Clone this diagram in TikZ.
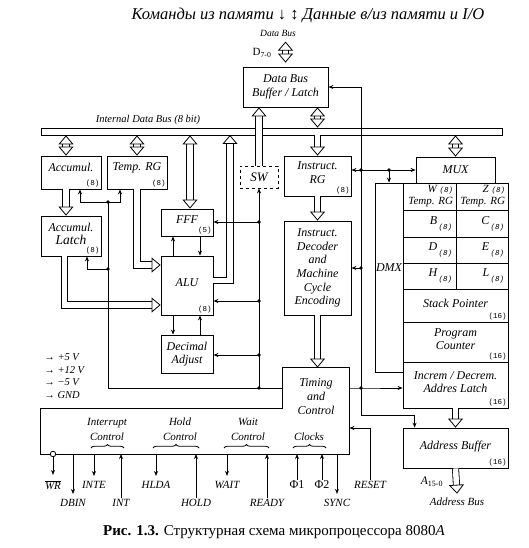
\documentclass[tikz,border=0pt]{standalone}
\usepackage{fontspec}
\setmainfont{Liberation Serif}
\setmonofont{Liberation Mono}
\usetikzlibrary{arrows.meta,decorations.pathreplacing}
\newcommand\szlab[1]{{\ttfamily\fontsize{7.5}{8}\selectfont #1}}

\tikzset{
  blk/.style={draw, inner sep=0pt},
  txt/.style={font=\itshape\fontsize{12}{13.5}\selectfont, align=center, inner sep=1pt},
  sz/.style={font=\ttfamily\fontsize{7.5}{8}\selectfont, inner sep=1.5pt},
  sig/.style={font=\itshape\fontsize{11}{12}\selectfont, inner sep=1pt},
  dot/.style={circle, fill, inner sep=0pt, minimum size=3.6pt},
  fat/.style={double, double distance=5.5pt, -{Triangle[open, length=9pt, width=15pt]}},
  fatboth/.style={double, double distance=5.5pt, {Triangle[open, length=9pt, width=15pt]}-{Triangle[open, length=9pt, width=15pt]}},
  brc/.style={decorate, decoration={brace, amplitude=3.5pt}},
}

\begin{document}
\begin{tikzpicture}[x=1pt, y=-1pt, line width=0.8pt, >={Stealth[length=5pt, width=4pt]}]
\useasboundingbox (0,0) rectangle (528,548);

% heading
\node[font=\itshape\fontsize{16.5}{18}\selectfont] (head) at (308,15) {Команды из памяти ↓ ↕ Данные в/из памяти и I/O};
\node[txt, font=\itshape\fontsize{9.5}{10}\selectfont] (dbus) at (278,33) {Data Bus};
\node[font=\fontsize{11}{12}\selectfont, inner sep=1pt] (dlab) at (262,53) {D\textsubscript{7-0}};

% internal data bus
\node[blk, fill=white, minimum width=461pt, minimum height=7pt] (bus) at (271.5,131.5) {};
\node[txt, font=\itshape\fontsize{10.5}{11}\selectfont] (buslab) at (148,120) {Internal Data Bus (8 bit)};

% left blocks
\node[blk, minimum width=85pt, minimum height=40pt, label={[txt]center:{Data Bus\\Buffer / Latch}}] (buf) at (285.5,87) {};
\node[blk, minimum width=60pt, minimum height=33pt, label={[txt, yshift=5pt]center:Accumul.}, label={[sz, anchor=south east]south east:{(8)}}] (acc) at (71,172.5) {};
\node[blk, minimum width=60pt, minimum height=33pt, label={[txt, yshift=5pt]center:{Temp. RG}}, label={[sz, anchor=south east]south east:{(8)}}] (tmp) at (137,172.5) {};
\node[blk, minimum width=60pt, minimum height=40pt, label={[txt, yshift=2pt]center:{Accumul.\\\fontsize{13.5}{14}\selectfont Latch}}, label={[sz, anchor=south east]south east:{(8)}}] (lat) at (71,236) {};
\node[blk, minimum width=52pt, minimum height=27pt, label={[txt, yshift=2.5pt]center:FFF}, label={[sz, anchor=south east]south east:{(5)}}] (fff) at (187,222.5) {};
\node[blk, dashed, minimum width=38pt, minimum height=22pt, label={[txt, font=\itshape\fontsize{13}{14}\selectfont]center:SW}] (sw) at (259,177) {};
\node[blk, minimum width=52pt, minimum height=59pt, label={[txt, yshift=2.5pt]center:ALU}, label={[sz, anchor=south east]south east:{(8)}}] (alu) at (187,285.5) {};
\node[blk, minimum width=52pt, minimum height=38pt, label={[txt]center:{Decimal\\Adjust}}] (dad) at (187,354) {};

% middle blocks
\node[blk, minimum width=67pt, minimum height=40pt, label={[txt, yshift=3.5pt]center:{Instruct.\\RG}}, label={[sz, anchor=south east]south east:{(8)}}] (ir) at (317.5,176) {};
\node[blk, minimum width=67pt, minimum height=94pt, label={[txt, font=\itshape\fontsize{12}{13.6}\selectfont]center:{Instruct.\\Decoder\\and\\Machine\\Cycle\\Encoding}}] (dec) at (317.5,268) {};
\node[minimum width=66pt, minimum height=86pt, inner sep=0pt] (tim) at (316,411) {};
\node[txt, font=\itshape\fontsize{12}{14}\selectfont] (timtxt) at (316,397) {Timing\\and\\Control};

% register array
\node[blk, minimum width=79pt, minimum height=26pt, label={[txt]center:MUX}] (mux) at (455.5,170) {};
\node[blk, minimum width=28pt, minimum height=189pt, label={[txt, yshift=9.5pt]center:DMX}] (dmx) at (389,277.5) {};
\node[blk, minimum width=53pt, minimum height=27pt, label={[txt, anchor=east, align=right, xshift=-2pt, font=\itshape\fontsize{11}{12}\selectfont]east:{W \szlab{(8)}\\Temp. RG}}] (wreg) at (429.5,196.5) {};
\node[blk, minimum width=52pt, minimum height=27pt, label={[txt, anchor=east, align=right, xshift=-2pt, font=\itshape\fontsize{11}{12}\selectfont]east:{Z \szlab{(8)}\\Temp. RG}}] (zreg) at (482,196.5) {};
\node[blk, minimum width=53pt, minimum height=27pt, label={[txt, anchor=east, xshift=-3pt]east:{B\raisebox{-5pt}{\szlab{\,(8)}}}}] (breg) at (429.5,223.5) {};
\node[blk, minimum width=52pt, minimum height=27pt, label={[txt, anchor=east, xshift=-3pt]east:{C\raisebox{-5pt}{\szlab{\,(8)}}}}] (creg) at (482,223.5) {};
\node[blk, minimum width=53pt, minimum height=26pt, label={[txt, anchor=east, xshift=-3pt]east:{D\raisebox{-5pt}{\szlab{\,(8)}}}}] (dreg) at (429.5,250) {};
\node[blk, minimum width=52pt, minimum height=26pt, label={[txt, anchor=east, xshift=-3pt]east:{E\raisebox{-5pt}{\szlab{\,(8)}}}}] (ereg) at (482,250) {};
\node[blk, minimum width=53pt, minimum height=26pt, label={[txt, anchor=east, xshift=-3pt]east:{H\raisebox{-5pt}{\szlab{\,(8)}}}}] (hreg) at (429.5,276) {};
\node[blk, minimum width=52pt, minimum height=26pt, label={[txt, anchor=east, xshift=-3pt]east:{L\raisebox{-5pt}{\szlab{\,(8)}}}}] (lreg) at (482,276) {};
\node[blk, minimum width=105pt, minimum height=33pt, label={[txt, yshift=2.5pt]center:{Stack Pointer}}, label={[sz, anchor=south east]south east:{(16)}}] (sp) at (455.5,305.5) {};
\node[blk, minimum width=105pt, minimum height=40pt, label={[txt, yshift=3pt]center:{Program\\Counter}}, label={[sz, anchor=south east]south east:{(16)}}] (pc) at (455.5,342) {};
\node[blk, minimum width=105pt, minimum height=46pt, label={[txt, yshift=3pt]center:{Increm / Decrem.\\Addres Latch}}, label={[sz, anchor=south east]south east:{(16)}}] (inc) at (455.5,385) {};
\node[blk, minimum width=105pt, minimum height=40pt, label={[txt, yshift=1pt]center:{Address Buffer}}, label={[sz, anchor=south east]south east:{(16)}}] (abuf) at (455.5,448) {};
\node[font=\itshape\fontsize{11.5}{12}\selectfont, inner sep=1pt] (alab) at (432,482) {A\textsubscript{\upshape 15-0}};
\node[sig] (abus) at (457,502) {Address Bus};

% control section outline
\draw (40,408) -| (tim.north west) -- (tim.north east) |- (40,454) -- cycle;
\coordinate (base) at (0,454);
\node[txt, font=\itshape\fontsize{11}{15}\selectfont] (intc) at (107,429.5) {Interrupt\\Control};
\node[txt, font=\itshape\fontsize{11}{15}\selectfont] (holdc) at (180,429.5) {Hold\\Control};
\node[txt, font=\itshape\fontsize{11}{15}\selectfont] (waitc) at (248,429.5) {Wait\\Control};
\node[txt, font=\itshape\fontsize{11}{15}\selectfont] (clk) at (309,437) {Clocks};
\draw[brc] (91,448) -- (124,448);
\draw[brc] (153,448) -- (199,448);
\draw[brc] (224,448) -- (269,448);
\draw[brc] (293,448) -- (326,448);

% power
\node[txt, align=left, anchor=west, font=\itshape\fontsize{10.5}{12.7}\selectfont] (pwr) at (43,376) {→ +5 V\\→ +12 V\\→ −5 V\\→ GND};

% fat buses
\coordinate (aluup) at (230,135);
\draw[fatboth] ([yshift=-4pt]dbus.south -| buf.north) -- ([yshift=4pt]buf.north);
\draw[fatboth] (bus.north -| ir.north) -- (buf.south -| ir.north);
\draw[fat] (sw.north) -- (sw.north |- buf.south);
\draw[fatboth] (bus.south -| 66,0) -- ([xshift=-5pt]acc.north);
\draw[fatboth] (bus.south -| tmp.north) -- (tmp.north);
\draw[fatboth] (bus.south -| 190,0) -- ([xshift=3pt]fff.north);
\draw[fat] ([yshift=5pt]alu.east) -| (aluup);
\draw[fat] (bus.south -| ir.north) -- (ir.north);
\draw[fatboth] (bus.south -| mux.north) -- (mux.north);
\draw[fat] ([xshift=-5pt]acc.south) -- ([xshift=-5pt]lat.north);
\draw[fat] (tmp.south) |- ([yshift=20.5pt]alu.west);
\draw[fat] ([xshift=-6.5pt]lat.south) |- ([yshift=-19.5pt]alu.west);
\draw[fat] (ir.south) -- (dec.north);
\draw[fat] (dec.south) -- (dec.south |- tim.north);
\draw[fat] (inc.south) -- (abuf.north);
\draw[fat] (abuf.south) -- ([yshift=3pt]abus.north);

% control lines, right
\node[dot] (jt) at (361,388) {};
\node[dot] (jm) at (361,170) {};
\node[dot] (jd) at (389,170) {};
\node[dot] (jc) at (361,268) {};
\coordinate (ja) at (361,415);
\draw[->] (tim.east |- jt) -- (jt.center) -- (inc.west |- jt);
\draw[->] (jt.center) |- (buf.east);
\draw[->] (jt.center) -- (ja) -| ([xshift=12pt]abuf.north west);
\draw[<->] (ir.east |- jm) -- (mux.west |- jm);
\draw[->] (jd.center) -- (jd |- dmx.north);
\draw[->] (jc.center) -- (dec.east |- jc);

% control lines, left
\node[dot] (s1) at (259,222) {};
\node[dot] (s2) at (259,301) {};
\node[dot] (s3) at (259,355) {};
\node[dot] (s4) at (259,388) {};
\node[dot] (a1) at (108,202) {};
\node[dot] (a2) at (108,269) {};
\coordinate (a3) at (108,388);
\draw[->] (s4.center) -- (sw.south);
\draw[->] (s1.center) -- (fff.east |- s1);
\draw[->] (s2.center) -- (alu.east |- s2);
\draw[->] (s3.center) -- (dad.east |- s3);
\draw (a1.center) -- (a3) -- (tim.west |- a3);
\draw[->] (a1.center) -| ([xshift=9pt]acc.south);
\draw[->] (a1.center) -| ([xshift=-17pt]tmp.south);
\draw[->] (a2.center) -| ([xshift=16pt]lat.south);

% ALU links
\draw[->] ([xshift=-14pt]alu.north) -- ([xshift=-14pt]fff.south);
\draw[->] ([xshift=13pt]fff.south) -- ([xshift=13pt]alu.north);
\draw[->] ([xshift=-14pt]alu.south) -- ([xshift=-14pt]dad.north);
\draw[->] ([xshift=13pt]dad.north) -- ([xshift=13pt]alu.south);

% pins
\node[circle, draw, fill=white, inner sep=0pt, minimum size=5.5pt] (wro) at (53,454) {};
\node[sig] (wr) at (53,485) {$\overline{\hbox{\itshape WR}}$};
\node[sig] (dbin) at (73,503) {DBIN};
\node[sig] (inte) at (94,485) {INTE};
\node[sig] (int) at (121,503) {INT};
\node[sig] (hlda) at (156,485) {HLDA};
\node[sig] (hold) at (196,503) {HOLD};
\node[sig] (wait) at (227,485) {WAIT};
\node[sig] (ready) at (267,503) {READY};
\node[sig, font=\upshape\fontsize{12}{13}\selectfont] (ph1) at (297,485) {Φ1};
\node[sig, font=\upshape\fontsize{12}{13}\selectfont] (ph2) at (322,485) {Φ2};
\node[sig] (sync) at (337,503) {SYNC};
\node[sig] (rst) at (370,485) {RESET};
\draw[->, shorten >=4pt] (wro) -- (wr.north);
\draw[->, shorten >=4pt] (dbin.north |- base) -- (dbin.north);
\draw[->, shorten >=4pt] (inte.north |- base) -- (inte.north);
\draw[->] (int.north) -- (int.north |- base);
\draw[->, shorten >=4pt] (hlda.north |- base) -- (hlda.north);
\draw[->] (hold.north) -- (hold.north |- base);
\draw[->, shorten >=4pt] (wait.north |- base) -- (wait.north);
\draw[->] (ready.north) -- (ready.north |- base);
\draw[->] (ph1.north) -- (ph1.north |- base);
\draw[->] (ph2.north) -- (ph2.north |- base);
\draw[->, shorten >=4pt] (sync.north |- base) -- (sync.north);
\draw[->] (rst.north) |- ([yshift=-17pt]tim.east);

% caption
\node[font=\fontsize{15}{17}\selectfont] (cap) at (274,532) {\textbf{Рис. 1.3.} Структурная схема микропроцессора 8080\textit{A}};
\end{tikzpicture}
\end{document}
